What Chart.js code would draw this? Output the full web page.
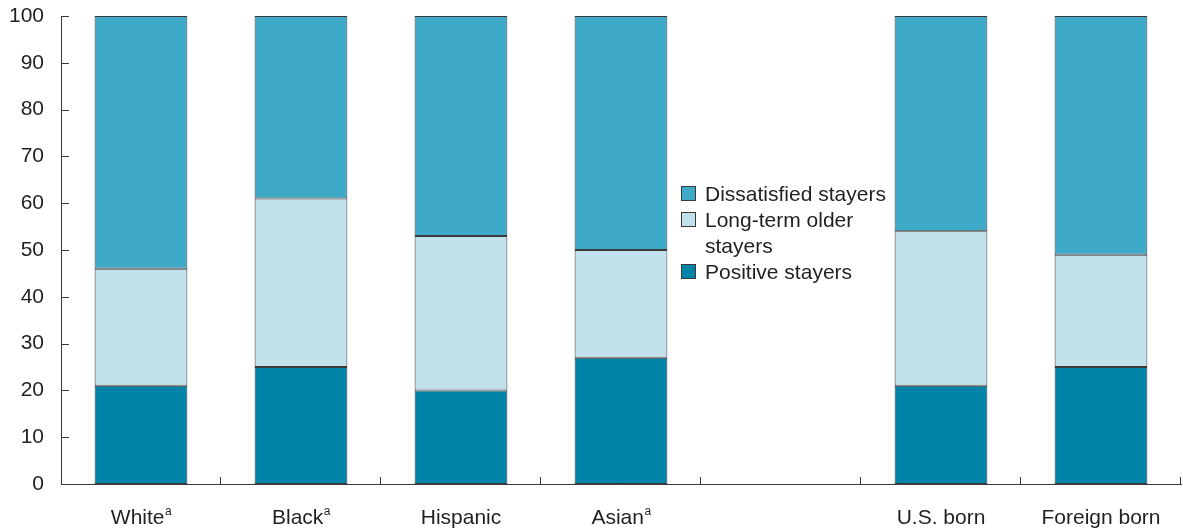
<!DOCTYPE html>
<html>
<head>
<meta charset="utf-8">
<script src="https://cdn.jsdelivr.net/npm/chart.js@4/dist/chart.umd.min.js"></script>
<style>
  html, body { margin: 0; padding: 0; background: #fff; }
  #wrap { width: 1183px; height: 531px; }
</style>
</head>
<body>
<div id="wrap"><canvas id="barChart" width="1183" height="531"></canvas></div>
<script>
// categories (empty slot separates race groups from nativity groups)
const categories = ['White', 'Black', 'Hispanic', 'Asian', '', 'U.S. born', 'Foreign born'];
const notes = ['a', 'a', '', 'a', '', '', ''];

// percent of stayers in each group
const positive = [21, 25, 20, 27, null, 21, 25];
const longTerm = [25, 36, 33, 23, null, 33, 24];
const dissatisfied = [54, 39, 47, 50, null, 46, 51];

const yTicks = [0, 10, 20, 30, 40, 50, 60, 70, 80, 90, 100];

const FONT = '"Liberation Sans", Arial, Helvetica, sans-serif';
const INK = '#231f20';
const EDGE = '#3a3a3a';

const legendItems = [
    { lines: ['Dissatisfied stayers'], color: '#3fa9c8' },
    { lines: ['Long-term older', 'stayers'], color: '#c0e0ec' },
    { lines: ['Positive stayers'], color: '#0083a9' }
];

// inward tick marks, x labels with superscript notes, legend in the empty slot
const extras = {
    id: 'extras',
    afterDraw(chart) {
        const ctx = chart.ctx;
        const x = chart.scales.x, y = chart.scales.y;
        const area = chart.chartArea;
        ctx.save();
        ctx.strokeStyle = EDGE;
        ctx.lineWidth = 1;
        yTicks.forEach(v => {
            const py = Math.round(y.getPixelForValue(v)) + 0.5;
            ctx.beginPath();
            ctx.moveTo(area.left, py);
            ctx.lineTo(area.left + 8, py);
            ctx.stroke();
        });
        const step = (area.right - area.left) / categories.length;
        for (let i = 1; i <= categories.length; i++) {
            const px = Math.round(area.left + step * i) - 0.5;
            ctx.beginPath();
            ctx.moveTo(px, area.bottom);
            ctx.lineTo(px, area.bottom - 7);
            ctx.stroke();
        }

        // category labels
        ctx.fillStyle = INK;
        ctx.textBaseline = 'alphabetic';
        categories.forEach((c, i) => {
            if (!c) return;
            const cx = x.getPixelForValue(i);
            ctx.font = '21px ' + FONT;
            const w1 = ctx.measureText(c).width;
            ctx.font = '12px ' + FONT;
            const w2 = notes[i] ? ctx.measureText(notes[i]).width : 0;
            const start = cx - (w1 + w2) / 2;
            ctx.font = '21px ' + FONT;
            ctx.textAlign = 'left';
            ctx.fillText(c, start, 524);
            if (notes[i]) {
                ctx.font = '12px ' + FONT;
                ctx.fillText(notes[i], start + w1 + 0.5, 515);
            }
        });

        // legend
        let base = 201;
        ctx.font = '21px ' + FONT;
        legendItems.forEach(item => {
            ctx.fillStyle = item.color;
            ctx.fillRect(681, base - 15, 15, 15);
            ctx.strokeStyle = EDGE;
            ctx.strokeRect(681.5, base - 14.5, 14, 14);
            ctx.fillStyle = INK;
            ctx.textAlign = 'left';
            item.lines.forEach((t, k) => {
                ctx.fillText(t, 705, base + k * 26);
            });
            base += 26 * item.lines.length;
        });
        ctx.restore();
    }
};

const data = {
    labels: categories,
    datasets: [
        { label: 'Positive stayers', data: positive, backgroundColor: '#0083a9' },
        { label: 'Long-term older stayers', data: longTerm, backgroundColor: '#c0e0ec' },
        { label: 'Dissatisfied stayers', data: dissatisfied, backgroundColor: '#3fa9c8' }
    ].map(d => Object.assign(d, {
        borderColor: EDGE,
        borderWidth: 1,
        borderSkipped: false,
        categoryPercentage: 1,
        barPercentage: 0.58
    }))
};

const config = {
    type: 'bar',
    data: data,
    plugins: [extras],
    options: {
        responsive: false,
        animation: false,
        layout: { padding: { top: 16, right: 2, left: 0, bottom: 0 } },
        plugins: {
            legend: { display: false },
            tooltip: { enabled: false }
        },
        scales: {
            x: {
                stacked: true,
                grid: { display: false, drawTicks: false },
                border: { display: true, color: EDGE, width: 1 },
                ticks: { display: false },
                afterFit(scale) { scale.height = 47; }
            },
            y: {
                stacked: true,
                min: 0,
                max: 100,
                grid: { display: false, drawTicks: false },
                border: { display: true, color: EDGE, width: 1 },
                ticks: {
                    stepSize: 10,
                    padding: 17,
                    color: INK,
                    font: { family: FONT, size: 21 }
                },
                afterFit(scale) {
                    scale.width = 61;
                    scale.paddingTop = 0;
                    scale.paddingBottom = 0;
                }
            }
        }
    }
};

const barChart = new Chart(document.getElementById('barChart'), config);
</script>
</body>
</html>
